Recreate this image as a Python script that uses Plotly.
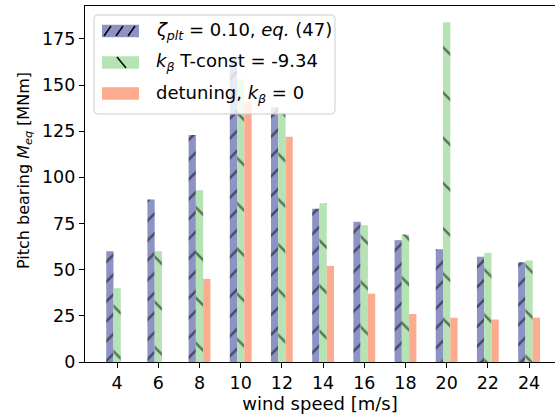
import plotly.graph_objects as go

wind_speed = [4, 6, 8, 10, 12, 14, 16, 18, 20, 22, 24]
zeta_plt = [60, 88, 123, 165, 138, 83, 76, 66, 61, 57, 54]
k_beta_tconst = [40, 60, 93, 153, 135, 86, 74, 69, 184, 59, 55]
detuning = [0, 0, 45, 141, 122, 52, 37, 26, 24, 23, 24]
y_ticks = [0, 25, 50, 75, 100, 125, 150, 175]

names = [
    "<i>ζ<sub>plt</sub></i> = 0.10, <i>eq.</i> (47)",
    "<i>k<sub>β</sub></i> T-const = -9.34",
    "detuning, <i>k<sub>β</sub></i> = 0",
]
colors = ["#8d94c5", "#b6e3b3", "#fcab8e"]

FONT = "DejaVu Sans, sans-serif"

# plot area in pixels (for placing the hand-drawn legend box)
L, R, T, B = 85, 555, 6, 362
def px(x):
    return (x - L) / (R - L)
def py(y):
    return (B - y) / (B - T)

fig = go.Figure()
fig.add_trace(go.Bar(
    x=wind_speed, y=zeta_plt, name=names[0],
    marker=dict(color=colors[0], line=dict(width=0),
                pattern=dict(shape="/", fgcolor="black", bgcolor=colors[0],
                             size=14, solidity=0.18, fillmode="overlay")),
))
fig.add_trace(go.Bar(
    x=wind_speed, y=k_beta_tconst, name=names[1],
    marker=dict(color=colors[1], line=dict(width=0),
                pattern=dict(shape="\\", fgcolor="black", bgcolor=colors[1],
                             size=32, solidity=0.08, fillmode="overlay")),
))
fig.add_trace(go.Bar(
    x=wind_speed, y=detuning, name=names[2],
    marker=dict(color=colors[2], line=dict(width=0)),
))

shapes = []
annotations = []

def conv_path(x0, x1, y0, y1, r):
    P = lambda x, y: f"{px(x):.5f},{py(y):.5f}"
    return (f"M {P(x0+r,y0)} L {P(x1-r,y0)} Q {P(x1,y0)} {P(x1,y0+r)} L {P(x1,y1-r)} "
            f"Q {P(x1,y1)} {P(x1-r,y1)} L {P(x0+r,y1)} Q {P(x0,y1)} {P(x0,y1-r)} "
            f"L {P(x0,y0+r)} Q {P(x0,y0)} {P(x0+r,y0)} Z")

# legend frame (rounded)
shapes.append(dict(type="path", xref="paper", yref="paper",
                   path=conv_path(94, 335, 15, 114, 4),
                   fillcolor="rgba(255,255,255,0.8)",
                   line=dict(color="#cccccc", width=1), layer="above"))
row_y = [31, 62.5, 93.5]
sw_x0, sw_x1, sw_h = 102, 139, 12.5
for i, yc in enumerate(row_y):
    shapes.append(dict(type="rect", xref="paper", yref="paper",
                       x0=px(sw_x0), x1=px(sw_x1), y0=py(yc + sw_h / 2), y1=py(yc - sw_h / 2),
                       fillcolor=colors[i], line=dict(width=0), layer="above"))
    annotations.append(dict(text=names[i], xref="paper", yref="paper",
                            x=px(154), y=py(yc), xanchor="left", yanchor="middle",
                            showarrow=False, font=dict(family=FONT, size=18, color="black")))
# hatch marks in the legend swatches
for xs in [104, 116, 128]:
    shapes.append(dict(type="line", xref="paper", yref="paper",
                       x0=px(xs), y0=py(row_y[0] + 5), x1=px(xs + 7), y1=py(row_y[0] - 5),
                       line=dict(color="black", width=1.5), layer="above"))
shapes.append(dict(type="line", xref="paper", yref="paper",
                   x0=px(117), y0=py(row_y[1] - 5.5), x1=px(126), y1=py(row_y[1] + 5.5),
                   line=dict(color="black", width=1.5), layer="above"))

# y-axis label
annotations.append(dict(text="Pitch bearing <i>M<sub>eq</sub></i> [MNm]",
                        xref="paper", yref="paper", x=px(24), y=py(171),
                        xanchor="center", yanchor="middle", textangle=-90,
                        showarrow=False, font=dict(family=FONT, size=16, color="black")))

fig.update_layout(
    width=555, height=415,
    margin=dict(l=L, r=0, t=T, b=415 - B),
    paper_bgcolor="white", plot_bgcolor="white",
    barmode="group", bargap=0.47, bargroupgap=0,
    font=dict(family=FONT, size=17, color="black"),
    showlegend=False,
    shapes=shapes,
    annotations=annotations,
    xaxis=dict(
        range=[2.44, 25.26],
        tickmode="array", tickvals=wind_speed, ticktext=[str(v) for v in wind_speed],
        showgrid=False, zeroline=False,
        showline=True, linecolor="black", linewidth=1.2, mirror=True,
        ticks="outside", ticklen=5, tickwidth=1, tickcolor="black",
        tickfont=dict(family=FONT, size=17.5),
        title=dict(text="wind speed [m/s]", font=dict(family=FONT, size=18), standoff=4),
    ),
    yaxis=dict(
        range=[0, 192.8],
        tickmode="array", tickvals=y_ticks,
        showgrid=False, zeroline=False,
        showline=True, linecolor="black", linewidth=1.2,
        ticks="outside", ticklen=5, tickwidth=1, tickcolor="black",
        tickfont=dict(family=FONT, size=17.5),
    ),
)

fig.write_html("out.html")
